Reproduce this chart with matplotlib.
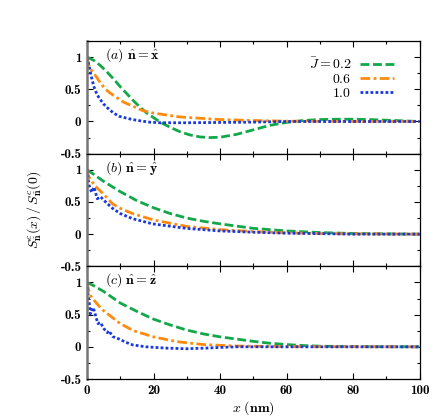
import matplotlib
matplotlib.use("Agg")
import matplotlib.pyplot as plt
from matplotlib.ticker import MultipleLocator, FuncFormatter

plt.rcParams['mathtext.fontset'] = 'cm'
plt.rcParams['axes.unicode_minus'] = False

# ---------------- data ----------------
labels_J = [r'$\bar{J}=0.2$', r'$0.6$', r'$1.0$']
panel_labels = [r'$(a)\ \hat{\mathbf{n}}=\hat{\mathbf{x}}$',
                r'$(b)\ \hat{\mathbf{n}}=\hat{\mathbf{y}}$',
                r'$(c)\ \hat{\mathbf{n}}=\hat{\mathbf{z}}$']

# panel (a)
a_green_x = [0, 2, 4, 6, 8, 10, 12, 14, 16, 18, 20, 22, 25, 28, 31, 34, 37, 40, 45, 50, 55, 60, 65, 70, 75, 80, 85, 90, 95, 100]
a_green_y = [1.0, 0.95, 0.87, 0.77, 0.66, 0.54, 0.43, 0.32, 0.22, 0.13, 0.06, -0.01, -0.09, -0.16, -0.21, -0.24, -0.25, -0.245, -0.2, -0.13, -0.06, -0.015, 0.015, 0.03, 0.035, 0.035, 0.03, 0.02, 0.01, 0.0]
a_orange_x = [0, 0.5, 1, 2, 3, 4, 5.6, 7, 8.7, 11, 13.7, 16.7, 20, 24, 28, 34, 40, 50, 60, 80, 100]
a_orange_y = [1.0, 0.88, 0.82, 0.75, 0.68, 0.6, 0.5, 0.44, 0.38, 0.3, 0.24, 0.17, 0.13, 0.1, 0.07, 0.05, 0.03, 0.015, 0.005, 0.0, 0.0]
a_blue_x = [0, 0.6, 1.2, 2, 3, 3.6, 5, 6.6, 8, 9.7, 12, 13.7, 16, 18.7, 22, 30, 40, 50, 60, 80, 100]
a_blue_y = [1.0, 0.87, 0.72, 0.55, 0.42, 0.37, 0.27, 0.19, 0.13, 0.08, 0.05, 0.03, 0.01, -0.01, -0.02, -0.02, -0.015, -0.01, 0.0, 0.0, 0.0]

# panel (b)
b_green_x = [0, 2, 5, 10, 15, 20, 25, 30, 35, 40, 50, 60, 70, 80, 90, 100]
b_green_y = [1.0, 0.93, 0.82, 0.66, 0.52, 0.41, 0.32, 0.25, 0.2, 0.16, 0.09, 0.05, 0.025, 0.01, 0.005, 0.0]
b_orange_x = [0, 0.5, 1, 2, 3, 4, 5, 7.7, 10, 13.7, 20, 30, 40, 50, 60, 70, 80, 100]
b_orange_y = [1.0, 0.9, 0.85, 0.78, 0.72, 0.67, 0.62, 0.47, 0.4, 0.32, 0.22, 0.12, 0.07, 0.04, 0.02, 0.01, 0.005, 0.0]
b_blue_x = [0, 0.6, 1.4, 2.1, 3.1, 4.1, 5.6, 7.7, 10, 13.7, 19.7, 29.8, 40, 50, 60, 70, 80, 100]
b_blue_y = [1.0, 0.76, 0.65, 0.73, 0.55, 0.58, 0.5, 0.4, 0.32, 0.24, 0.16, 0.09, 0.05, 0.03, 0.015, 0.008, 0.0, 0.0]

# panel (c)
c_green_x = [0, 2, 5, 10, 15, 20, 25, 30, 35, 40, 45, 50, 55, 60, 65, 70, 80, 100]
c_green_y = [1.0, 0.95, 0.86, 0.68, 0.55, 0.43, 0.34, 0.26, 0.2, 0.155, 0.12, 0.085, 0.055, 0.035, 0.02, 0.01, 0.003, 0.0]
c_orange_x = [0, 0.5, 1, 2, 3, 4, 5, 7, 10, 14, 20, 27, 35, 45, 60, 100]
c_orange_y = [1.0, 0.88, 0.8, 0.73, 0.67, 0.61, 0.56, 0.48, 0.36, 0.25, 0.155, 0.08, 0.035, 0.012, 0.003, 0.0]
c_blue_x = [0, 0.3, 0.7, 1.0, 1.7, 2.2, 2.7, 3.3, 4.0, 5.1, 6.1, 6.6, 7.7, 9.7, 11.7, 13.7, 17.7, 23.7, 29.8, 35.8, 40, 45, 60, 100]
c_blue_y = [1.0, 0.82, 0.67, 0.51, 0.61, 0.56, 0.46, 0.36, 0.38, 0.28, 0.22, 0.25, 0.16, 0.12, 0.07, 0.03, 0.0, -0.02, -0.03, -0.02, -0.01, 0.0, 0.0, 0.0]

panels = [
    [(a_green_x, a_green_y), (a_orange_x, a_orange_y), (a_blue_x, a_blue_y)],
    [(b_green_x, b_green_y), (b_orange_x, b_orange_y), (b_blue_x, b_blue_y)],
    [(c_green_x, c_green_y), (c_orange_x, c_orange_y), (c_blue_x, c_blue_y)],
]

colors = ['#12a84a', '#ff8a10', '#1838e0']
styles = [(0, (3.2, 1.3)), (0, (3.5, 1.2, 1.0, 1.2)), (0, (1.0, 0.8))]

# ---------------- figure ----------------
fig = plt.figure(figsize=(4.36, 4.19), dpi=100)
left, right = 87 / 436, 419.5 / 436
top, bottom = 1 - 41 / 419, 1 - 379 / 419
h = (top - bottom) / 3


def fmt(v, pos):
    if abs(v) < 1e-9:
        return '0'
    return '%g' % v


axes = []
for i in range(3):
    ax = fig.add_axes([left, top - (i + 1) * h, right - left, h])
    axes.append(ax)
    for (xs, ys), c, ls in zip(panels[i], colors, styles):
        ax.plot(xs, ys, color=c, linestyle=ls, linewidth=2.0)
    ax.set_xlim(0, 100)
    ax.set_ylim(-0.5, 1.25)
    ax.xaxis.set_major_locator(MultipleLocator(20))
    ax.xaxis.set_minor_locator(MultipleLocator(10))
    ax.yaxis.set_major_locator(MultipleLocator(0.5))
    ax.yaxis.set_minor_locator(MultipleLocator(0.25))
    ax.yaxis.set_major_formatter(FuncFormatter(fmt))
    ax.xaxis.set_major_formatter(FuncFormatter(fmt))
    ax.tick_params(which='both', direction='in', top=True, right=True,
                   labelsize=9.5, labelfontfamily='cmb10', width=0.8)
    ax.tick_params(which='major', length=4, pad=4)
    ax.tick_params(which='minor', length=2)
    for s in ax.spines.values():
        s.set_linewidth(0.9)
    ax.spines['left'].set_color('#777777')
    ax.spines['left'].set_linewidth(1.8)
    if i < 2:
        ax.tick_params(labelbottom=False)
    ax.text(0.055, 0.955, panel_labels[i], transform=ax.transAxes,
            ha='left', va='top', fontsize=10)

leg = axes[0].legend(labels_J, loc='upper right', markerfirst=False,
                     frameon=False, fontsize=10, handlelength=2.4,
                     handletextpad=0.65, labelspacing=0.0,
                     bbox_to_anchor=(0.96, 0.975))

axes[2].set_xlabel(r'$x\ (\mathbf{nm})$', fontsize=10, labelpad=2)
fig.text(35 / 436, 1 - 210 / 419,
         r'$S^{c}_{\hat{\mathbf{n}}}(x)\,/\,S^{c}_{\hat{\mathbf{n}}}(0)$',
         rotation=90, ha='center', va='center', fontsize=10)

fig.savefig('out.png', dpi=100)
